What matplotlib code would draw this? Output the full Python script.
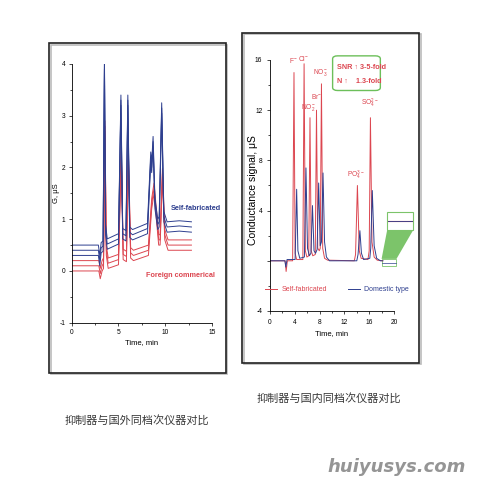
import matplotlib
matplotlib.use("Agg")
import matplotlib.pyplot as plt
from matplotlib.patches import Rectangle, FancyBboxPatch, Polygon

# ---- left chart data: foreign commercial vs self-fabricated (relative traces + baseline offsets)
blue_t = [0, 2.85, 3.0, 3.15, 3.35, 3.5, 3.62, 3.8, 5.0, 5.26, 5.45, 5.8, 6.0, 6.2, 6.5,
          8.1, 8.45, 8.55, 8.7, 8.9, 9.2, 9.35, 9.62, 9.85, 10.2, 11.5, 12.8]
blue_v = [0, 0, -0.2, 0.05, 0.08, 3.6, 0.4, 0.12, 0.22, 2.9, 0.32, 0.28, 2.9, 0.35, 0.3,
          0.42, 1.8, 1.6, 2.1, 0.9, 0.5, 0.55, 2.75, 0.65, 0.45, 0.47, 0.45]
blue_offsets = [0.5, 0.4, 0.3]

red_t = [0, 2.9, 3.05, 3.25, 3.4, 3.55, 3.7, 3.9, 5.0, 5.3, 5.5, 5.85, 6.05, 6.3, 6.6,
         8.2, 8.55, 8.8, 9.05, 9.3, 9.45, 9.7, 9.95, 10.3, 12.8]
red_v = [0, 0, -0.15, 0.0, 0.05, 2.7, 0.3, 0.05, 0.12, 2.2, 0.22, 0.18, 2.15, 0.25, 0.2,
         0.3, 1.2, 1.5, 1.0, 0.5, 0.5, 1.78, 0.6, 0.4, 0.4]
red_offsets = [0.2, 0.1, 0.0]

# ---- right chart data: self-fabricated vs domestic type
self_t = [0, 2.45, 2.6, 2.8, 3.65, 3.87, 4.05, 4.3, 5.3, 5.5, 5.7, 5.95, 6.25, 6.45, 6.65,
          6.9, 7.3, 7.5, 7.7, 7.95, 8.1, 8.3, 8.5, 8.8, 9.3, 13.6, 13.8, 14.1, 14.4, 14.7,
          15.8, 16.0, 16.2, 16.45, 16.8, 17.3, 18.2]
self_v = [0, 0, -0.85, 0, 0, 15.0, 0.6, 0.1, 0.1, 15.7, 0.8, 0.3, 0.4, 11.4, 0.8,
          0.4, 0.5, 12.0, 1.0, 0.8, 1.0, 14.1, 1.0, 0.2, 0.05, 0, 0.5, 6.0, 0.8, 0.2,
          0.1, 0.8, 11.4, 1.5, 0.3, 0.05, 0]
dom_t = [0, 2.4, 2.55, 2.75, 4.05, 4.3, 4.5, 4.8, 5.55, 5.8, 6.05, 6.35, 6.6, 6.85, 7.1,
         7.35, 7.6, 7.85, 8.1, 8.3, 8.55, 8.8, 9.1, 9.6, 14.0, 14.2, 14.5, 14.75, 15.1,
         16.1, 16.25, 16.5, 16.8, 17.2, 17.8, 18.2]
dom_v = [0, 0, -0.5, 0.1, 0.1, 5.7, 0.8, 0.2, 0.3, 7.4, 1.0, 0.4, 0.6, 4.4, 0.8,
         0.6, 0.9, 6.2, 1.2, 1.5, 7.0, 1.5, 0.3, 0, 0, 0.5, 2.4, 0.6, 0.1,
         0.2, 1.0, 5.6, 1.2, 0.2, 0, 0]

ion_labels = [r"F$^{-}$", r"Cl$^{-}$", r"NO$_2^{-}$", r"Br$^{-}$", r"NO$_3^{-}$",
              r"PO$_4^{3-}$", r"SO$_4^{2-}$"]
ion_x = [3.7, 5.4, 6.25, 7.45, 8.15, 13.9, 16.1]
ion_y = [15.6, 15.8, 11.8, 12.7, 14.6, 6.3, 12.0]

BLUE = "#2e3f8f"
RED = "#dc4650"
cjk = ["Noto Sans CJK SC", "DejaVu Sans"]
arial = ["Liberation Sans", "DejaVu Sans"]
plt.rcParams["font.family"] = arial
plt.rcParams["mathtext.fontset"] = "custom"
plt.rcParams["mathtext.rm"] = "Liberation Sans"
plt.rcParams["axes.unicode_minus"] = False

fig = plt.figure(figsize=(4.8, 4.8), dpi=100)

# panel frames with a small shadow
for x0, y0, w, h in [(0.1027, 0.2229, 0.368, 0.687), (0.5048, 0.2444, 0.3688, 0.6875)]:
    fig.patches.append(Rectangle((x0 + 0.003, y0 - 0.003), w, h, transform=fig.transFigure,
                                 facecolor="none", edgecolor="#bbbbbb", lw=1.2))
    fig.patches.append(Rectangle((x0, y0), w, h, transform=fig.transFigure,
                                 facecolor="none", edgecolor="#222222", lw=1.2))

# ---- left chart
ax1 = fig.add_axes([0.1494, 0.3277, 0.2923, 0.539])
for off in red_offsets:
    ax1.plot(red_t, [v + off for v in red_v], color=RED, lw=0.7)
for off in blue_offsets:
    ax1.plot(blue_t, [v + off for v in blue_v], color=BLUE, lw=0.7)
ax1.set_xlim(0, 15)
ax1.set_ylim(-1, 4)
ax1.set_xticks([0, 5, 10, 15])
ax1.set_xticks([2.5, 7.5, 12.5], minor=True)
ax1.set_yticks([-1, 0, 1, 2, 3, 4])
ax1.set_yticks([-0.5, 0.5, 1.5, 2.5, 3.5], minor=True)
ax1.spines[["top", "right"]].set_visible(False)
ax1.spines[["left", "bottom"]].set_linewidth(0.6)
ax1.tick_params(labelsize=4.8, length=2.5, width=0.5, pad=2)
ax1.tick_params(which="minor", length=1.5, width=0.5)
ax1.set_xlabel("Time, min", fontsize=5.5, labelpad=2)
ax1.set_ylabel("G, \u03bcS", fontsize=5.5)
ax1.yaxis.set_label_coords(-0.085, 0.5)
ax1.text(10.6, 1.18, "Self-fabricated", color=BLUE, fontsize=5.2, fontweight="bold")
ax1.text(7.95, -0.12, "Foreign commerical", color=RED, fontsize=5.2, fontweight="bold")

# ---- right chart
ax2 = fig.add_axes([0.5625, 0.3521, 0.2583, 0.5229])
ax2.plot(self_t, self_v, color=RED, lw=0.7, label="Self-fabricated")
ax2.plot(dom_t, dom_v, color=BLUE, lw=0.7, label="Domestic type")
ax2.set_xlim(0, 20)
ax2.set_ylim(-4, 16)
ax2.set_xticks([0, 4, 8, 12, 16, 20])
ax2.set_xticks([2, 6, 10, 14, 18], minor=True)
ax2.set_yticks([-4, 0, 4, 8, 12, 16])
ax2.set_yticklabels(["-4", "", "4", "8", "12", "16"])
ax2.set_yticks([-2, 2, 6, 10, 14], minor=True)
ax2.spines[["top", "right"]].set_visible(False)
ax2.spines[["left", "bottom"]].set_linewidth(0.6)
ax2.tick_params(labelsize=4.8, length=2.5, width=0.5, pad=3)
ax2.tick_params(which="minor", length=1.5, width=0.5)
ax2.set_xlabel("Time, min", fontsize=5.5, labelpad=3)
ax2.set_ylabel("Conductance signal, \u03bcS", fontsize=7.5)
ax2.yaxis.set_label_coords(-0.1, 0.48)
for lab, x, y in zip(ion_labels, ion_x, ion_y):
    ax2.text(x, y, lab, color=RED, fontsize=4.8, ha="center", va="bottom")
leg = ax2.legend(loc="center", bbox_to_anchor=(0.54, 0.085), ncol=2, frameon=False,
                 fontsize=5, handlelength=1.8, columnspacing=3.0, handletextpad=0.6)
leg.get_texts()[0].set_color(RED)
leg.get_texts()[1].set_color(BLUE)

# SNR annotation box
ax2.add_patch(FancyBboxPatch((10.2, 13.6), 7.5, 2.7, boxstyle="round,pad=0.1,rounding_size=0.8",
                             facecolor="white", edgecolor="#6cbf5a", lw=1.0, clip_on=False,
                             mutation_aspect=0.3))
ax2.text(10.8, 15.4, "SNR \u2191 3-5-fold", color=RED, fontsize=5.2, fontweight="bold",
         va="center")
ax2.text(10.8, 14.3, "N \u2191    1.3-fold", color=RED, fontsize=5.2, fontweight="bold",
         va="center")

# baseline noise zoom inset
ax2.add_patch(Polygon([(18.9, 2.45), (23.1, 2.45), (20.4, 0.15), (18.0, 0.15)], closed=True,
                      facecolor="#7cc46a", edgecolor="none", clip_on=False))
ax2.add_patch(Rectangle((18.9, 2.45), 4.2, 1.45, facecolor="white", edgecolor="#7cc46a",
                        lw=0.8, clip_on=False))
ax2.plot([19.1, 22.9], [3.2, 3.2], color=RED, lw=0.8, clip_on=False)
ax2.plot([19.1, 22.9], [3.15, 3.15], color=BLUE, lw=0.6, clip_on=False)
ax2.add_patch(Rectangle((18.0, -0.45), 2.4, 0.6, facecolor="white", edgecolor="#7cc46a",
                        lw=0.6, clip_on=False))
ax2.plot([18.0, 20.4], [-0.15, -0.15], color=BLUE, lw=0.5, clip_on=False)

# captions and watermark
fig.text(137 / 480, 1 - 420 / 480, "抑制器与国外同档次仪器对比", family=cjk, fontsize=8,
         ha="center", va="center", color="#3a3a3a")
fig.text(329 / 480, 1 - 398 / 480, "抑制器与国内同档次仪器对比", family=cjk, fontsize=8,
         ha="center", va="center", color="#3a3a3a")
fig.text(397 / 480, 1 - 467 / 480, "huiyusys.com", fontsize=13, fontweight="bold",
         fontstyle="italic", family="DejaVu Sans", color="#959595", ha="center", va="center")

fig.savefig("out.png", dpi=100, facecolor="white")
